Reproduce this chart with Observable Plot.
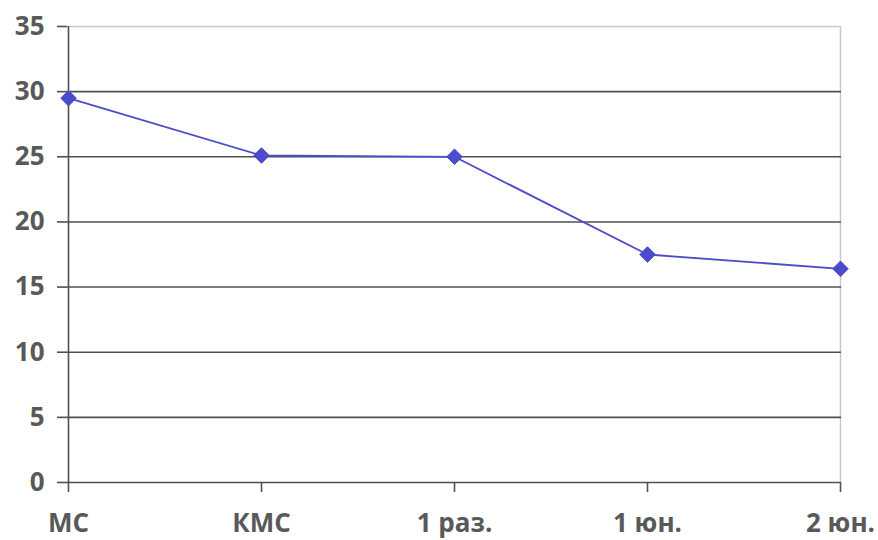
<!DOCTYPE html>
<html>
<head>
<meta charset="utf-8">
<script src="https://cdn.jsdelivr.net/npm/d3@7"></script>
<script src="https://cdn.jsdelivr.net/npm/@observablehq/plot@0.6"></script>
<style>
  html, body { margin: 0; padding: 0; background: #fff; }
  #chart svg { display: block; }
  #chart svg g[aria-label="y-axis tick label"] text,
  #chart svg g[aria-label="x-axis tick label"] text { font-size: 26px; font-weight: bold; }
</style>
</head>
<body>
<div id="chart"></div>
<script>
const categories = ["МС", "КМС", "1 раз.", "1 юн.", "2 юн."];
const values = [29.5, 25.1, 25.0, 17.5, 16.4];
const yTicks = [0, 5, 10, 15, 20, 25, 30, 35];
const gridTicks = [5, 10, 15, 20, 25, 30];

const data = categories.map((c, i) => ({ cat: c, v: values[i] }));

const textColor = "#595959";
const gridColor = "#505050";
const lineColor = "#4b4bcc";

const chart = Plot.plot({
  width: 878,
  height: 540,
  marginLeft: 67,
  marginRight: 37,
  marginTop: 26,
  marginBottom: 58,
  style: { fontFamily: "'Open Sans', sans-serif", background: "#fff", fontSize: "26px" },
  x: { type: "point", domain: categories, padding: 0 },
  y: { domain: [0, 35] },
  marks: [
    Plot.ruleY([35], { stroke: "#c8c8c8", strokeWidth: 1.5 }),
    Plot.ruleX([categories[categories.length - 1]], { stroke: "#c8c8c8", strokeWidth: 1.5, y1: 0, y2: 35 }),
    Plot.ruleY(gridTicks, { stroke: gridColor, strokeWidth: 1.6 }),
    Plot.ruleY([0], { stroke: gridColor, strokeWidth: 1.6 }),
    Plot.ruleX([categories[0]], { stroke: gridColor, strokeWidth: 1.6, y1: 0, y2: 35 }),
    Plot.axisY({
      ticks: yTicks, tickSize: 10, tickPadding: 13,
      stroke: gridColor, strokeWidth: 1.6, strokeOpacity: 1,
      fill: textColor, fontSize: 26, fontWeight: "bold", label: null
    }),
    Plot.axisX({
      tickSize: 10, tickPadding: 21,
      stroke: gridColor, strokeWidth: 1.6, strokeOpacity: 1,
      fill: textColor, fontSize: 26, fontWeight: "bold", label: null
    }),
    Plot.line(data, { x: "cat", y: "v", stroke: lineColor, strokeWidth: 1.8 }),
    Plot.dot(data, { x: "cat", y: "v", symbol: "diamond2", r: 7, fill: lineColor, stroke: lineColor, strokeWidth: 1 })
  ]
});
document.getElementById("chart").appendChild(chart);
</script>
</body>
</html>
